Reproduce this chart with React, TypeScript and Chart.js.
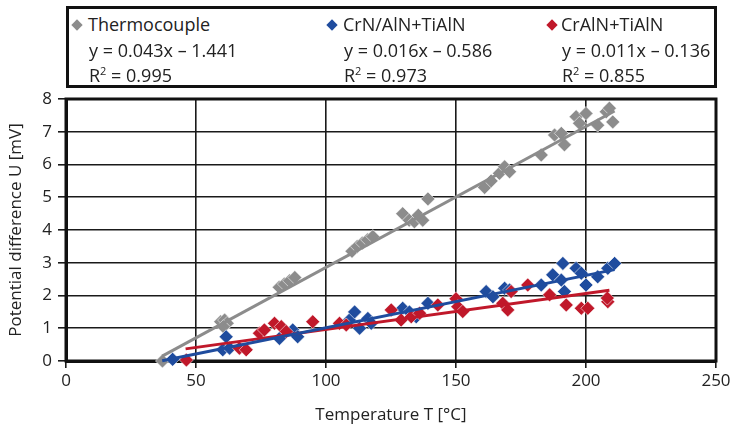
import React, { useEffect, useRef } from "react";
import { Chart, registerables } from "chart.js";

Chart.register(...registerables);

// ---------- data ----------
const seriesNames = ["Thermocouple", "CrN/AlN+TiAlN", "CrAlN+TiAlN"];
const seriesColors = ["#8c8c8c", "#1f4c9e", "#c0182a"];
const fitEquations = ["y = 0.043x \u2013 1.441", "y = 0.016x \u2013 0.586", "y = 0.011x \u2013 0.136"];
const r2Values = ["0.995", "0.973", "0.855"];

const fitSlopes = [0.043, 0.016, 0.011];
const fitIntercepts = [-1.441, -0.586, -0.136];
const fitStartT = [37, 37, 46];
const fitEndT = [211, 211, 209];

const thermoT = [37.1, 59.5, 61, 62, 60.5, 82, 84, 86, 88, 110, 112, 114, 116, 118, 129.5, 132, 134, 135.5, 137.2, 139.2, 161, 163.5, 166.7, 168.7, 170.6, 182.8, 187.9, 190.5, 191.7, 196.2, 197.5, 200, 204.5, 207.8, 209, 210.3];
const thermoU = [0.0, 1.2, 1.25, 1.15, 1.05, 2.25, 2.35, 2.45, 2.55, 3.35, 3.5, 3.6, 3.7, 3.8, 4.5, 4.3, 4.25, 4.45, 4.3, 4.95, 5.3, 5.5, 5.73, 5.93, 5.78, 6.29, 6.9, 6.95, 6.6, 7.46, 7.26, 7.56, 7.2, 7.61, 7.72, 7.3];

const crnT = [41, 60.3, 61.6, 62.9, 82.1, 87.2, 89.1, 109, 111, 112.9, 116.1, 117.4, 129.5, 132.1, 134.7, 139.2, 161.6, 164.2, 168.7, 170.6, 182.8, 187.2, 190.5, 191.1, 191.7, 196.2, 198.2, 200, 204.5, 208.4, 211];
const crnU = [0.05, 0.34, 0.74, 0.39, 0.69, 0.95, 0.74, 1.25, 1.5, 1.0, 1.3, 1.15, 1.61, 1.5, 1.35, 1.76, 2.12, 1.96, 2.22, 2.17, 2.32, 2.63, 2.47, 2.98, 2.12, 2.83, 2.68, 2.32, 2.57, 2.83, 2.98];

const cralnT = [46.3, 66.7, 69.3, 74.4, 76.3, 80.2, 82.8, 84.7, 94.9, 105.2, 107.8, 125.1, 128.9, 132.8, 136, 143, 150, 150.7, 152.6, 168, 169.9, 171.2, 177.6, 186, 192.4, 198.2, 200.7, 208.4, 208.2];
const cralnU = [0.03, 0.39, 0.34, 0.85, 0.95, 1.15, 1.05, 0.9, 1.2, 1.15, 1.1, 1.56, 1.25, 1.35, 1.46, 1.71, 1.9, 1.66, 1.51, 1.76, 1.56, 2.12, 2.32, 2.02, 1.71, 1.61, 1.61, 1.81, 1.92];

const xTicksMax = 250;
const yTicksMax = 8;

// ---------- helpers ----------
const toPoints = (xs: number[], ys: number[]) => xs.map((x, i) => ({ x, y: ys[i] }));
const fitLine = (i: number) => [
  { x: fitStartT[i], y: fitSlopes[i] * fitStartT[i] + fitIntercepts[i] },
  { x: fitEndT[i], y: fitSlopes[i] * fitEndT[i] + fitIntercepts[i] },
];

const FONT = "'Open Sans', 'DejaVu Sans', sans-serif";
const TEXT = "#222";

const framePlugin = {
  id: "frame",
  beforeDatasetsDraw(chart: any) {
    const { ctx, chartArea } = chart;
    ctx.save();
    ctx.strokeStyle = "#111";
    ctx.lineWidth = 3;
    ctx.strokeRect(chartArea.left, chartArea.top, chartArea.right - chartArea.left, chartArea.bottom - chartArea.top);
    ctx.restore();
  },
};

function ChartCanvas() {
  const ref = useRef<HTMLCanvasElement | null>(null);
  useEffect(() => {
    if (!ref.current) return;
    const pointSets = [toPoints(thermoT, thermoU), toPoints(crnT, crnU), toPoints(cralnT, cralnU)];
    const lineDatasets = [0, 1, 2].map((i) => ({
      type: "line" as const,
      label: seriesNames[i] + " fit",
      data: fitLine(i),
      borderColor: seriesColors[i],
      borderWidth: 3,
      pointRadius: 0,
      showLine: true,
      fill: false,
      clip: false as any,
    }));
    const pointDatasets = [0, 1, 2].map((i) => ({
      type: "scatter" as const,
      label: seriesNames[i],
      data: pointSets[i],
      backgroundColor: seriesColors[i],
      borderColor: "rgba(255,255,255,0.55)",
      borderWidth: 1,
      pointStyle: "rectRot" as const,
      pointRadius: 7,
      clip: false as any,
    }));
    const chart = new Chart(ref.current, {
      type: "scatter",
      data: { datasets: [...lineDatasets, ...pointDatasets.reverse()] as any },
      plugins: [framePlugin],
      options: {
        animation: false,
        responsive: false,
        maintainAspectRatio: false,
        layout: { padding: { top: 99, right: 18, left: 0, bottom: 0 } },
        plugins: { legend: { display: false }, tooltip: { enabled: false } },
        scales: {
          x: {
            type: "linear",
            min: 0,
            max: xTicksMax,
            ticks: { stepSize: 50, color: TEXT, font: { family: FONT, size: 17 }, padding: 3, maxRotation: 0 },
            grid: { color: "#1a1a1a", lineWidth: 1.6, tickLength: 7, tickColor: "#1a1a1a" },
            border: { display: true, color: "#111", width: 3 },
            title: { display: true, text: "Temperature T [\u00b0C]", color: TEXT, font: { family: FONT, size: 17 }, padding: { top: 0, bottom: 3 } },
            afterFit(scale: any) {
              scale.height = 67;
            },
          },
          y: {
            type: "linear",
            min: 0,
            max: yTicksMax,
            ticks: { stepSize: 1, color: TEXT, font: { family: FONT, size: 17 }, padding: 6 },
            grid: { color: "#1a1a1a", lineWidth: 1.6, tickLength: 8, tickColor: "#1a1a1a" },
            border: { display: true, color: "#111", width: 3 },
            title: { display: true, text: "Potential difference U [mV]", color: TEXT, font: { family: FONT, size: 17 }, padding: { top: 6, bottom: 0 } },
            afterFit(scale: any) {
              scale.width = 66;
            },
          },
        },
      } as any,
    });
    return () => chart.destroy();
  }, []);
  return <canvas ref={ref} width={734} height={428} style={{ position: "absolute", left: 0, top: 0, width: 734, height: 428 }} />;
}

const legendCols = [
  { marker: 77, text: 88 },
  { marker: 332, text: 343 },
  { marker: 552, text: 561 },
];

function Legend() {
  const textStyle: React.CSSProperties = {
    position: "absolute",
    fontFamily: FONT,
    fontSize: 18,
    lineHeight: "24px",
    color: TEXT,
    whiteSpace: "nowrap",
  };
  return (
    <>
      <div
        style={{
          position: "absolute",
          left: 66,
          top: 6,
          width: 651,
          height: 82,
          boxSizing: "border-box",
          border: "3px solid #111",
          background: "#fff",
        }}
      />
      {legendCols.map((c, i) => (
        <React.Fragment key={i}>
          <div
            style={{
              position: "absolute",
              left: c.marker - 4,
              top: 25 - 4,
              width: 8,
              height: 8,
              background: seriesColors[i],
              transform: "rotate(45deg)",
            }}
          />
          <div style={{ ...textStyle, left: c.text, top: 12 }}>{seriesNames[i]}</div>
          <div style={{ ...textStyle, left: c.text + 1, top: 38 }}>{fitEquations[i]}</div>
          <div style={{ ...textStyle, left: c.text + 1, top: 63 }}>
            R<span style={{ fontSize: 11, position: "relative", top: -7 }}>2</span> = {r2Values[i]}
          </div>
        </React.Fragment>
      ))}
    </>
  );
}

export default function App() {
  return (
    <div style={{ position: "absolute", left: 0, top: 0, width: 734, height: 428, background: "#fff", overflow: "hidden" }}>
      <ChartCanvas />
      <Legend />
    </div>
  );
}
